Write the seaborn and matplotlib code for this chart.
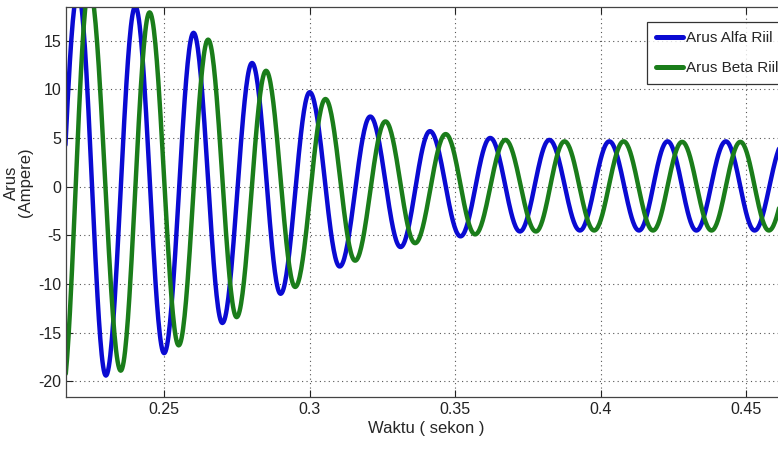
import numpy as np
import pandas as pd
import matplotlib
matplotlib.use("Agg")
import matplotlib.pyplot as plt
import seaborn as sns

# peaks / troughs: time (s), current (A)
alfa_t = [0.2103, 0.2204, 0.2300, 0.2401, 0.2500, 0.2601, 0.2700, 0.2802, 0.2900,
          0.3000, 0.3103, 0.3208, 0.3312, 0.3413, 0.3518, 0.3620, 0.3722, 0.3823,
          0.3928, 0.4029, 0.4131, 0.4229, 0.4328, 0.4429, 0.4528, 0.4630, 0.4730]
alfa_v = [-21.0, 20.0, -19.4, 18.5, -17.1, 15.8, -14.0, 12.7, -11.0,
          9.7, -8.2, 7.2, -6.2, 5.7, -5.1, 5.0, -4.6, 4.8,
          -4.5, 4.65, -4.5, 4.65, -4.5, 4.65, -4.5, 4.6, -4.5]

beta_t = [0.2148, 0.2243, 0.2351, 0.2450, 0.2550, 0.2651, 0.2749, 0.2850, 0.2950,
          0.3054, 0.3156, 0.3260, 0.3362, 0.3467, 0.3568, 0.3672, 0.3777, 0.3875,
          0.3977, 0.4078, 0.4179, 0.4279, 0.4380, 0.4479, 0.4577, 0.4681]
beta_v = [-21.5, 20.5, -18.9, 17.9, -16.3, 15.1, -13.4, 11.9, -10.3,
          9.0, -7.6, 6.7, -5.8, 5.4, -4.9, 4.8, -4.6, 4.65,
          -4.5, 4.65, -4.5, 4.6, -4.5, 4.6, -4.5, 4.6]

x_ticks = [0.25, 0.3, 0.35, 0.4, 0.45]
x_tick_labels = ["0.25", "0.3", "0.35", "0.4", "0.45"]
y_ticks = [-20, -15, -10, -5, 0, 5, 10, 15]


def wave(ts, vs, n=40):
    # half-cosine swing between consecutive extrema
    tt, vv = [], []
    for i in range(len(ts) - 1):
        s = np.linspace(0, 1, n, endpoint=False)
        tt.append(ts[i] + s * (ts[i + 1] - ts[i]))
        vv.append(vs[i] + (vs[i + 1] - vs[i]) * (1 - np.cos(np.pi * s)) / 2)
    tt.append([ts[-1]])
    vv.append([vs[-1]])
    return np.concatenate(tt), np.concatenate(vv)


ta, va = wave(alfa_t, alfa_v)
tb, vb = wave(beta_t, beta_v)
df = pd.concat([
    pd.DataFrame({"t": ta, "i": va, "s": "Arus Alfa Riil"}),
    pd.DataFrame({"t": tb, "i": vb, "s": "Arus Beta Riil"}),
])

sns.set_theme(style="ticks")
plt.rcParams["font.family"] = ["Liberation Sans", "DejaVu Sans"]
plt.rcParams["axes.unicode_minus"] = False

fig = plt.figure(figsize=(7.78, 4.51), dpi=100)
ax = fig.add_axes([66 / 778, 1 - 397 / 451, 1 - 66 / 778 + 0.01, (397 - 7) / 451])

sns.lineplot(data=df, x="t", y="i", hue="s", sort=False, estimator=None,
             palette=["#0a0ad2", "#1a7d1a"], linewidth=3.2, ax=ax, legend=True)

ax.set_xlim(0.2163, 0.4635)
ax.set_ylim(-21.6, 18.45)
ax.set_xticks(x_ticks)
ax.set_xticklabels(x_tick_labels)
ax.set_yticks(y_ticks)
ax.grid(True, linestyle=(0, (1, 3)), color="#555555", linewidth=0.8)
ax.tick_params(direction="in", length=5, width=0.8, labelsize=11.5,
               top=True, right=True, colors="#222222")
for sp in ax.spines.values():
    sp.set_color("#444444")
    sp.set_linewidth(0.9)

ax.set_xlabel("Waktu ( sekon )", fontsize=12, labelpad=3)
ax.set_ylabel("Arus\n(Ampere)", fontsize=12, linespacing=0.95)
ax.yaxis.set_label_coords(-0.046, 0.55)

leg = ax.legend(loc="upper left", bbox_to_anchor=(647 / 778, 1 - 22 / 451),
                bbox_transform=fig.transFigure, borderaxespad=0, fontsize=11,
                frameon=True, fancybox=False, edgecolor="black",
                handlelength=1.75, handletextpad=0.2, borderpad=0.6,
                labelspacing=1.05)
leg.get_frame().set_linewidth(0.9)
for h in leg.get_lines():
    h.set_linewidth(3.6)

fig.savefig("out.png", dpi=100)
